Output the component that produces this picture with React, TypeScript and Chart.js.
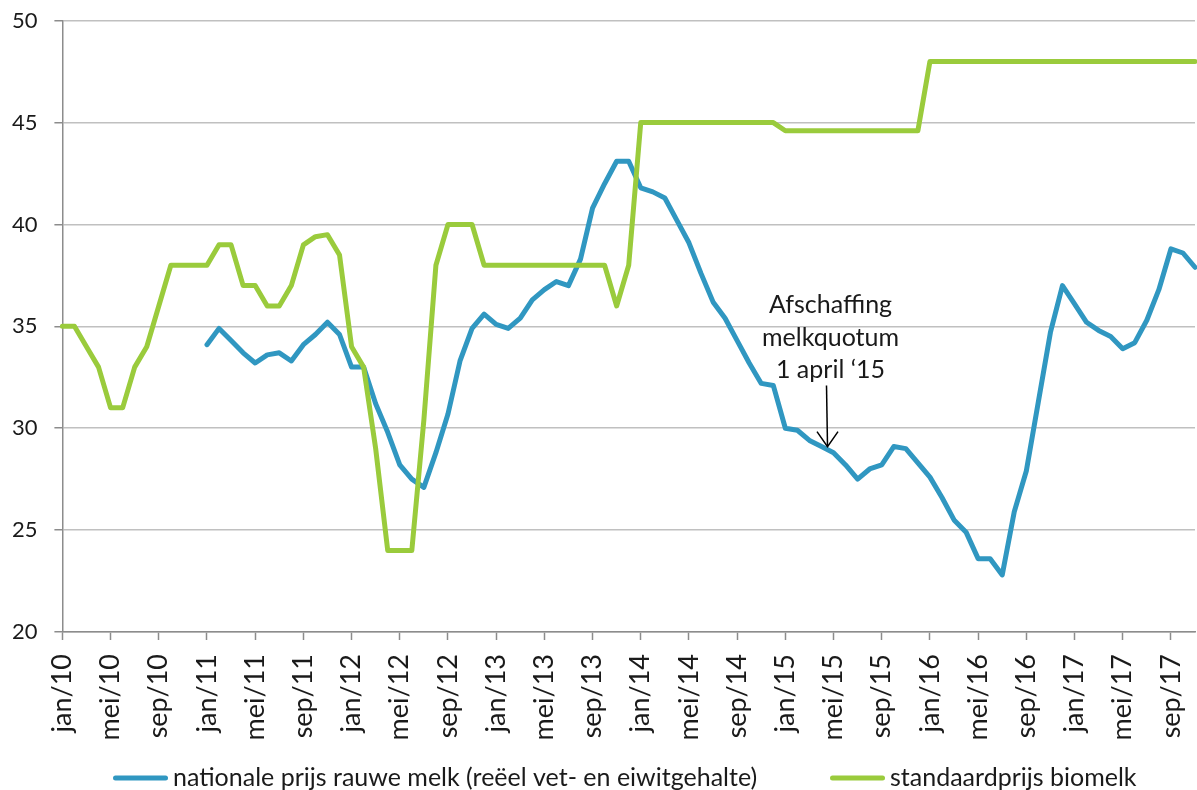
import { useEffect, useRef } from 'react';
import { Chart, registerables } from 'chart.js';

Chart.register(...registerables);

const monthNames = ['jan', 'feb', 'mrt', 'apr', 'mei', 'jun', 'jul', 'aug', 'sep', 'okt', 'nov', 'dec'];
const years = ['10', '11', '12', '13', '14', '15', '16', '17'];
const monthCount = 95; // jan/10 .. nov/17
const labelEvery = 4;

const categories: string[] = [];
for (let i = 0; i < monthCount; i++) {
  categories.push(monthNames[i % 12] + '/' + years[Math.floor(i / 12)]);
}

const nationalePrijs: (number | null)[] = [
  null, null, null, null, null, null, null, null, null, null, null, null,
  34.1, 34.9, 34.3, 33.7, 33.2, 33.6, 33.7, 33.3, 34.1, 34.6, 35.2, 34.6,
  33.0, 33.0, 31.2, 29.8, 28.2, 27.5, 27.1, 28.8, 30.7, 33.3, 34.9, 35.6,
  35.1, 34.9, 35.4, 36.3, 36.8, 37.2, 37.0, 38.3, 40.8, 42.0, 43.1, 43.1,
  41.8, 41.6, 41.3, 40.2, 39.1, 37.6, 36.2, 35.4, 34.3, 33.2, 32.2, 32.1,
  30.0, 29.9, 29.4, 29.1, 28.8, 28.2, 27.5, 28.0, 28.2, 29.1, 29.0, 28.3,
  27.6, 26.6, 25.5, 24.9, 23.6, 23.6, 22.8, 25.9, 27.9, 31.3, 34.7, 37.0,
  36.1, 35.2, 34.8, 34.5, 33.9, 34.2, 35.3, 36.8, 38.8, 38.6, 37.9,
];

const biomelkPrijs: number[] = [
  35, 35, 34, 33, 31, 31, 33, 34, 36, 38, 38, 38,
  38, 39, 39, 37, 37, 36, 36, 37, 39, 39.4, 39.5, 38.5,
  34, 33, 29, 24, 24, 24, 30.4, 38, 40, 40, 40, 38,
  38, 38, 38, 38, 38, 38, 38, 38, 38, 38, 36, 38,
  45, 45, 45, 45, 45, 45, 45, 45, 45, 45, 45, 45,
  44.6, 44.6, 44.6, 44.6, 44.6, 44.6, 44.6, 44.6, 44.6, 44.6, 44.6, 44.6,
  48, 48, 48, 48, 48, 48, 48, 48, 48, 48, 48, 48,
  48, 48, 48, 48, 48, 48, 48, 48, 48, 48, 48,
];

const seriesLabels = [
  'nationale prijs rauwe melk (reëel vet- en eiwitgehalte)',
  'standaardprijs biomelk',
];

const yMin = 20;
const yMax = 50;
const yStep = 5;

const annotationLines = ['Afschaffing', 'melkquotum', '1 april ‘15'];
const annotationIndex = 63.5;
const arrowFromValue = 32.1;
const arrowToValue = 29.1;

const FONT = 'Lato';
const TEXT = '#1a1a1a';
const AXIS = '#8c8c8c';
const GRID = '#c0c0c0';
const BLUE = '#3097c1';
const GREEN = '#9acb3c';

const overlayPlugin = {
  id: 'overlay',
  afterDraw(chart: any) {
    const { ctx } = chart;
    const x = chart.scales.x;
    const y = chart.scales.y;
    ctx.save();

    // annotation arrow + text
    const ax = x.getPixelForValue(annotationIndex);
    const top = y.getPixelForValue(arrowFromValue);
    const tip = y.getPixelForValue(arrowToValue);
    ctx.strokeStyle = '#000';
    ctx.lineWidth = 1.5;
    ctx.beginPath();
    ctx.moveTo(ax - 1, top);
    ctx.lineTo(ax, tip);
    ctx.stroke();
    ctx.beginPath();
    ctx.moveTo(ax - 10.5, tip - 15);
    ctx.lineTo(ax, tip);
    ctx.lineTo(ax + 10.5, tip - 15);
    ctx.stroke();

    ctx.font = `25px ${FONT}`;
    ctx.fillStyle = TEXT;
    ctx.textAlign = 'center';
    ctx.textBaseline = 'alphabetic';
    const n = annotationLines.length;
    annotationLines.forEach((t, i) => {
      ctx.fillText(t, ax + 3, top - 7 - (n - 1 - i) * 32.5);
    });

    // legend
    const starts = [113, 830];
    const ly = 778;
    ctx.font = `25px ${FONT}`;
    ctx.textAlign = 'left';
    chart.data.datasets.forEach((ds: any, i: number) => {
      const sx = starts[i];
      ctx.strokeStyle = ds.borderColor;
      ctx.lineWidth = 5;
      ctx.lineCap = 'round';
      ctx.beginPath();
      ctx.moveTo(sx + 2.5, ly);
      ctx.lineTo(sx + 52.5, ly);
      ctx.stroke();
      ctx.fillStyle = TEXT;
      ctx.fillText(ds.label, sx + 60, ly + 8);
    });
    ctx.restore();
  },
};

export default function App() {
  const canvasRef = useRef<HTMLCanvasElement | null>(null);

  useEffect(() => {
    const canvas = canvasRef.current;
    if (!canvas) return;
    const chart = new Chart(canvas, {
      type: 'line',
      data: {
        labels: categories,
        datasets: [
          {
            label: seriesLabels[0],
            data: nationalePrijs,
            borderColor: BLUE,
            backgroundColor: BLUE,
            borderWidth: 5,
            pointRadius: 0,
            tension: 0,
            borderJoinStyle: 'round',
            borderCapStyle: 'round',
            order: 1,
          },
          {
            label: seriesLabels[1],
            data: biomelkPrijs,
            borderColor: GREEN,
            backgroundColor: GREEN,
            borderWidth: 5,
            pointRadius: 0,
            tension: 0,
            borderJoinStyle: 'round',
            borderCapStyle: 'round',
            order: 0,
          },
        ],
      },
      options: {
        animation: false,
        responsive: false,
        devicePixelRatio: 1,
        layout: { padding: { top: 20.7, right: 2, bottom: 20, left: 0 } },
        plugins: {
          legend: { display: false },
          tooltip: { enabled: false },
        },
        scales: {
          x: {
            type: 'category',
            offset: false,
            afterBuildTicks: (s: any) => {
              s.ticks = s.ticks.filter((t: any) => t.value % labelEvery === 0);
            },
            grid: {
              drawOnChartArea: false,
              drawTicks: true,
              tickLength: 8,
              tickWidth: 1.5,
              tickColor: AXIS,
            },
            border: { color: AXIS, width: 1.5 },
            ticks: {
              autoSkip: false,
              maxRotation: 90,
              minRotation: 90,
              padding: 14,
              color: TEXT,
              font: { family: FONT, size: 27 },
            },
            afterFit: (s: any) => {
              s.height = 790 - 632 - 20;
              s.paddingLeft = 0;
              s.paddingRight = 0;
            },
          },
          y: {
            min: yMin,
            max: yMax,
            ticks: {
              stepSize: yStep,
              padding: 17,
              color: TEXT,
              font: { family: FONT, size: 22 },
            },
            grid: {
              color: GRID,
              lineWidth: 1.5,
              tickLength: 8,
              tickColor: AXIS,
            },
            border: { color: AXIS, width: 1.5 },
            afterFit: (s: any) => {
              s.width = 62.4;
              s.paddingTop = 0;
              s.paddingBottom = 0;
            },
          },
        },
      },
      plugins: [overlayPlugin],
    } as any);
    return () => chart.destroy();
  }, []);

  return (
    <div style={{ position: 'absolute', left: 0, top: 0, width: 1197, height: 790, background: '#fff' }}>
      <canvas ref={canvasRef} width={1197} height={790} />
    </div>
  );
}
